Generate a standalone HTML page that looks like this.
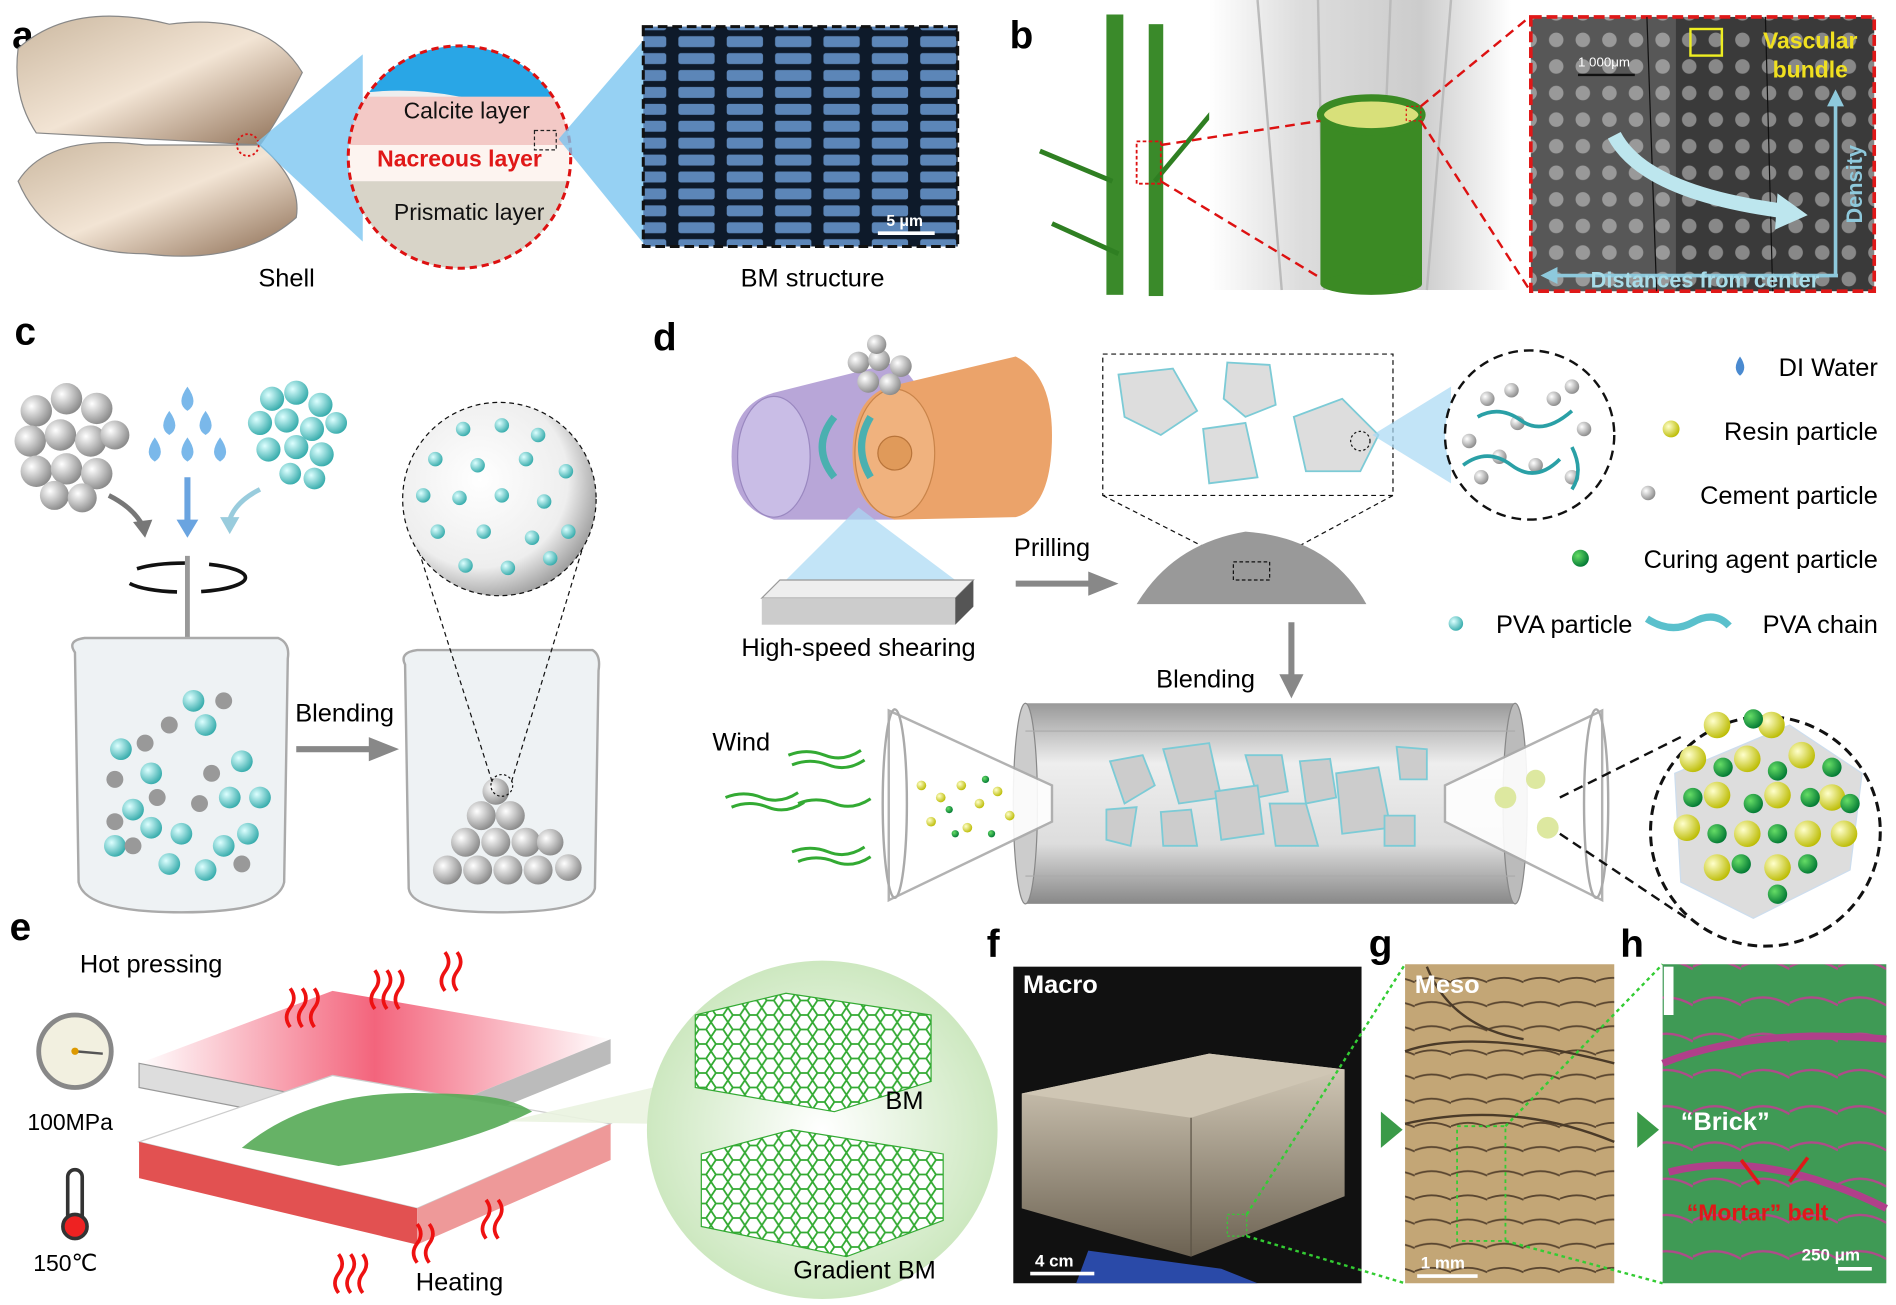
<!DOCTYPE html>
<html><head><meta charset="utf-8">
<style>
html,body{margin:0;padding:0;background:#fff;}
svg{display:block;font-family:"Liberation Sans",Arial,sans-serif;}
</style></head><body>
<svg width="1896" height="1305" viewBox="0 0 1568 1080" preserveAspectRatio="none" xmlns="http://www.w3.org/2000/svg">
<defs>
<radialGradient id="sph" cx="35%" cy="35%" r="70%"><stop offset="0" stop-color="#fff"/><stop offset="1" stop-color="#888"/></radialGradient>
<radialGradient id="cy" cx="35%" cy="35%" r="70%"><stop offset="0" stop-color="#dff"/><stop offset="1" stop-color="#3aa"/></radialGradient>
<radialGradient id="yel" cx="35%" cy="35%" r="70%"><stop offset="0" stop-color="#ffc"/><stop offset="1" stop-color="#bb0"/></radialGradient>
<radialGradient id="grn" cx="35%" cy="35%" r="70%"><stop offset="0" stop-color="#6d6"/><stop offset="1" stop-color="#073"/></radialGradient>
<radialGradient id="bigs" cx="40%" cy="40%" r="65%"><stop offset="0" stop-color="#fff"/><stop offset="0.7" stop-color="#eee"/><stop offset="1" stop-color="#999"/></radialGradient>
<radialGradient id="glow" cx="50%" cy="50%" r="50%"><stop offset="0" stop-color="#fff"/><stop offset="1" stop-color="#cde8c0"/></radialGradient>
<linearGradient id="tube" x1="0" y1="0" x2="0" y2="1"><stop offset="0" stop-color="#999"/><stop offset="0.3" stop-color="#eee"/><stop offset="0.7" stop-color="#ddd"/><stop offset="1" stop-color="#888"/></linearGradient>
<linearGradient id="shell" x1="0" y1="0" x2="1" y2="1"><stop offset="0" stop-color="#cbb8a0"/><stop offset="0.5" stop-color="#f2e4d4"/><stop offset="1" stop-color="#8a6a50"/></linearGradient>
<linearGradient id="bg" x1="0" y1="0" x2="1" y2="0"><stop offset="0" stop-color="#fff"/><stop offset="0.3" stop-color="#ddd"/><stop offset="0.7" stop-color="#ccc"/><stop offset="1" stop-color="#fff"/></linearGradient>
<linearGradient id="redp" x1="0" y1="0" x2="1" y2="0"><stop offset="0" stop-color="#fff"/><stop offset="0.5" stop-color="#e24"/><stop offset="1" stop-color="#fff"/></linearGradient>
<linearGradient id="cube" x1="0" y1="0" x2="0" y2="1"><stop offset="0" stop-color="#d8cfbd"/><stop offset="1" stop-color="#6c6252"/></linearGradient>
<pattern id="sem" width="40" height="14" patternUnits="userSpaceOnUse"><rect width="40" height="14" fill="#0e1a2a"/><rect x="1" y="2" width="30" height="9" rx="2" fill="#5c86b8"/></pattern>
<pattern id="dots" width="22" height="22" patternUnits="userSpaceOnUse"><rect width="22" height="22" fill="#3a3a3a"/><circle cx="11" cy="11" r="6" fill="#888"/></pattern>
<pattern id="tan" width="30" height="20" patternUnits="userSpaceOnUse"><rect width="30" height="20" fill="#c3a676"/><path d="M0 12 Q15 6 30 13" stroke="#5a4630" stroke-width="1.5" fill="none"/></pattern>
<pattern id="gr" width="40" height="30" patternUnits="userSpaceOnUse"><rect width="40" height="30" fill="#3f9a55"/><path d="M0 20 Q20 10 40 22" stroke="#b04a8a" stroke-width="2" fill="none"/></pattern>
<pattern id="cells" width="14" height="12" patternUnits="userSpaceOnUse"><rect width="14" height="12" fill="#fff"/><path d="M0 6 L4 0 L10 0 L14 6 L10 12 L4 12Z" fill="none" stroke="#3a3" stroke-width="1.5"/></pattern>
</defs>

<!-- ===== a ===== -->
<text x="10" y="40" font-size="32" font-weight="bold">a</text>
<path d="M15 40 Q60 0 140 20 Q220 10 250 60 Q230 100 215 120 L30 110 Q10 80 15 40Z" fill="url(#shell)" stroke="#888"/>
<path d="M15 150 Q40 110 120 120 L215 120 Q250 150 245 180 Q200 220 120 210 Q40 210 15 150Z" fill="url(#shell)" stroke="#888"/>
<circle cx="205" cy="120" r="9" fill="none" stroke="#d11" stroke-dasharray="2,2" stroke-width="1.5"/>
<polygon points="212,118 300,45 300,200" fill="#7cc6f0" opacity="0.8"/>
<clipPath id="ca"><circle cx="380" cy="130" r="92"/></clipPath>
<g clip-path="url(#ca)">
<rect x="280" y="30" width="200" height="200" fill="#eee"/>
<path d="M280 30 H480 V75 Q430 90 380 80 Q330 70 280 80Z" fill="#29a6e6"/>
<rect x="280" y="80" width="200" height="40" fill="#f3c9c6"/>
<rect x="280" y="120" width="200" height="30" fill="#fdf4f0"/>
<rect x="280" y="150" width="200" height="80" fill="#d8d4c8"/>
</g>
<circle cx="380" cy="130" r="92" fill="none" stroke="#d11" stroke-width="2.5" stroke-dasharray="6,4"/>
<text x="386" y="98" font-size="19" text-anchor="middle" fill="#111">Calcite layer</text>
<text x="380" y="138" font-size="19" text-anchor="middle" fill="#e01818" font-weight="bold">Nacreous layer</text>
<text x="388" y="182" font-size="19" text-anchor="middle" fill="#111">Prismatic layer</text>
<rect x="442" y="108" width="18" height="16" fill="none" stroke="#222" stroke-dasharray="3,2"/>
<polygon points="462,115 535,30 535,205" fill="#7cc6f0" opacity="0.8"/>
<rect x="532" y="22" width="260" height="182" fill="url(#sem)"/>
<rect x="532" y="22" width="260" height="182" fill="none" stroke="#111" stroke-width="2.5" stroke-dasharray="8,4"/>
<text x="733" y="187" font-size="13" fill="#fff" font-weight="bold">5 μm</text>
<line x1="726" y1="193" x2="773" y2="193" stroke="#fff" stroke-width="3"/>
<text x="237" y="237" font-size="21" text-anchor="middle">Shell</text>
<text x="672" y="237" font-size="21" text-anchor="middle">BM structure</text>

<!-- ===== b ===== -->
<text x="835" y="40" font-size="32" font-weight="bold">b</text>
<rect x="915" y="12" width="14" height="232" fill="#3a8a2a"/>
<rect x="950" y="20" width="12" height="225" fill="#3a8a2a"/>
<g stroke="#2f7f22" stroke-width="4"><line x1="955" y1="150" x2="1030" y2="60"/><line x1="920" y1="150" x2="860" y2="125"/><line x1="925" y1="210" x2="870" y2="185"/></g>
<rect x="1000" y="0" width="250" height="240" fill="url(#bg)"/>
<g stroke="#bbb" stroke-width="2"><line x1="1040" y1="0" x2="1060" y2="240"/><line x1="1090" y1="0" x2="1095" y2="240"/><line x1="1150" y1="0" x2="1140" y2="240"/><line x1="1200" y1="0" x2="1180" y2="240"/></g>
<rect x="1092" y="95" width="84" height="140" fill="#3b8a24"/>
<ellipse cx="1134" cy="235" rx="42" ry="9" fill="#3b8a24"/>
<ellipse cx="1134" cy="95" rx="42" ry="14" fill="#d8e07a" stroke="#3b8a24" stroke-width="6"/>
<rect x="940" y="117" width="20" height="35" fill="none" stroke="#d11" stroke-dasharray="3,2" stroke-width="1.5"/>
<line x1="960" y1="120" x2="1092" y2="100" stroke="#d11" stroke-width="2" stroke-dasharray="8,5"/>
<line x1="960" y1="150" x2="1092" y2="230" stroke="#d11" stroke-width="2" stroke-dasharray="8,5"/>
<rect x="1163" y="88" width="12" height="12" fill="none" stroke="#d11" stroke-dasharray="2,2"/>
<line x1="1175" y1="88" x2="1265" y2="14" stroke="#d11" stroke-width="2" stroke-dasharray="8,5"/>
<line x1="1175" y1="100" x2="1265" y2="240" stroke="#d11" stroke-width="2" stroke-dasharray="8,5"/>
<rect x="1266" y="14" width="284" height="227" fill="url(#dots)"/>
<rect x="1266" y="14" width="120" height="227" fill="#fff" opacity="0.15"/>
<rect x="1266" y="14" width="284" height="227" fill="none" stroke="#e01818" stroke-width="3" stroke-dasharray="9,4"/>
<line x1="1362" y1="14" x2="1370" y2="241" stroke="#111"/><line x1="1460" y1="14" x2="1466" y2="241" stroke="#111"/>
<text x="1305" y="55" font-size="11" fill="#fff">1 000μm</text><line x1="1305" y1="62" x2="1352" y2="62" stroke="#111" stroke-width="2"/>
<rect x="1398" y="24" width="26" height="22" fill="none" stroke="#ee2" stroke-width="2"/>
<text x="1458" y="40" font-size="19" fill="#f0e020" font-weight="bold">Vascular</text>
<text x="1466" y="64" font-size="19" fill="#f0e020" font-weight="bold">bundle</text>
<path d="M1335 112 Q1360 160 1478 175" stroke="#bde6ee" stroke-width="12" fill="none"/>
<polygon points="1470,160 1495,178 1468,190" fill="#bde6ee"/>
<line x1="1518" y1="228" x2="1518" y2="85" stroke="#8ec9dc" stroke-width="3"/><polygon points="1511,88 1518,74 1525,88" fill="#8ec9dc"/>
<line x1="1285" y1="228" x2="1520" y2="228" stroke="#8ec9dc" stroke-width="3"/><polygon points="1288,221 1274,228 1288,235" fill="#8ec9dc"/>
<text x="1540" y="185" font-size="18" fill="#8ec9dc" font-weight="bold" transform="rotate(-90 1540 185)">Density</text>
<text x="1410" y="238" font-size="18" fill="#a8dce8" font-weight="bold" text-anchor="middle">Distances from center</text>

<!-- ===== c ===== -->
<text x="12" y="285" font-size="32" font-weight="bold">c</text>
<g fill="url(#sph)">
<circle cx="30" cy="340" r="13"/><circle cx="55" cy="330" r="13"/><circle cx="80" cy="338" r="13"/><circle cx="25" cy="365" r="13"/><circle cx="50" cy="360" r="13"/><circle cx="75" cy="365" r="13"/><circle cx="95" cy="360" r="12"/><circle cx="30" cy="390" r="13"/><circle cx="55" cy="388" r="13"/><circle cx="80" cy="392" r="13"/><circle cx="45" cy="410" r="12"/><circle cx="68" cy="412" r="12"/></g>
<g fill="#7ab8ea"><path d="M155 320 q-10 14 0 20 q10 -6 0 -20z"/><path d="M140 340 q-10 14 0 20 q10 -6 0 -20z"/><path d="M170 340 q-10 14 0 20 q10 -6 0 -20z"/><path d="M128 362 q-10 14 0 20 q10 -6 0 -20z"/><path d="M155 362 q-10 14 0 20 q10 -6 0 -20z"/><path d="M182 362 q-10 14 0 20 q10 -6 0 -20z"/></g>
<g fill="url(#cy)">
<circle cx="225" cy="330" r="10"/><circle cx="245" cy="325" r="10"/><circle cx="265" cy="335" r="10"/><circle cx="215" cy="350" r="10"/><circle cx="237" cy="348" r="10"/><circle cx="258" cy="355" r="10"/><circle cx="278" cy="350" r="9"/><circle cx="222" cy="372" r="10"/><circle cx="245" cy="370" r="10"/><circle cx="266" cy="376" r="10"/><circle cx="240" cy="392" r="9"/><circle cx="260" cy="396" r="9"/></g>
<path d="M90 410 Q110 420 118 435" stroke="#777" stroke-width="4" fill="none"/><polygon points="110,432 120,445 126,430" fill="#777"/>
<line x1="155" y1="395" x2="155" y2="432" stroke="#6aa4e0" stroke-width="5"/><polygon points="146,430 155,445 164,430" fill="#6aa4e0"/>
<path d="M215 405 Q195 415 190 430" stroke="#9cd" stroke-width="4" fill="none"/><polygon points="182,428 190,442 198,428" fill="#9cd"/>
<ellipse cx="153" cy="478" rx="50" ry="12" fill="none" stroke="#111" stroke-width="3" stroke-dasharray="40,20"/>
<line x1="155" y1="460" x2="155" y2="660" stroke="#999" stroke-width="4"/>
<path d="M62 540 Q55 530 70 528 L230 528 Q240 532 238 545 L235 730 Q230 755 150 755 Q70 755 65 730Z" fill="#eef2f4" stroke="#aaa" stroke-width="2"/>
<g fill="url(#cy)"><circle cx="100" cy="620" r="9"/><circle cx="125" cy="640" r="9"/><circle cx="170" cy="600" r="9"/><circle cx="200" cy="630" r="9"/><circle cx="215" cy="660" r="9"/><circle cx="110" cy="670" r="9"/><circle cx="150" cy="690" r="9"/><circle cx="185" cy="700" r="9"/><circle cx="205" cy="690" r="9"/><circle cx="95" cy="700" r="9"/><circle cx="140" cy="715" r="9"/><circle cx="170" cy="720" r="9"/><circle cx="125" cy="685" r="9"/><circle cx="160" cy="580" r="9"/><circle cx="190" cy="660" r="9"/></g>
<g fill="#999"><circle cx="95" cy="645" r="7"/><circle cx="140" cy="600" r="7"/><circle cx="185" cy="580" r="7"/><circle cx="110" cy="700" r="7"/><circle cx="165" cy="665" r="7"/><circle cx="200" cy="715" r="7"/><circle cx="130" cy="660" r="7"/><circle cx="95" cy="680" r="7"/><circle cx="175" cy="640" r="7"/><circle cx="120" cy="615" r="7"/></g>
<text x="285" y="597" font-size="21" text-anchor="middle">Blending</text>
<line x1="245" y1="620" x2="310" y2="620" stroke="#888" stroke-width="5"/><polygon points="305,610 330,620 305,630" fill="#888"/>
<path d="M335 550 Q330 540 345 538 L490 538 Q497 542 495 555 L492 735 Q488 755 412 755 Q340 755 338 735Z" fill="#eef2f4" stroke="#aaa" stroke-width="2"/>
<g fill="url(#sph)"><circle cx="370" cy="720" r="12"/><circle cx="395" cy="720" r="12"/><circle cx="420" cy="720" r="12"/><circle cx="445" cy="720" r="12"/><circle cx="470" cy="718" r="11"/><circle cx="385" cy="697" r="12"/><circle cx="410" cy="697" r="12"/><circle cx="435" cy="697" r="12"/><circle cx="455" cy="697" r="11"/><circle cx="398" cy="675" r="12"/><circle cx="422" cy="675" r="12"/><circle cx="410" cy="655" r="11"/></g>
<circle cx="415" cy="650" r="9" fill="none" stroke="#111" stroke-dasharray="2,2"/>
<line x1="407" y1="647" x2="335" y2="420" stroke="#111" stroke-dasharray="4,3"/>
<line x1="423" y1="647" x2="492" y2="420" stroke="#111" stroke-dasharray="4,3"/>
<circle cx="413" cy="413" r="80" fill="url(#bigs)" stroke="#111" stroke-dasharray="4,3"/>
<g fill="url(#cy)"><circle cx="383" cy="355" r="6"/><circle cx="415" cy="352" r="6"/><circle cx="445" cy="360" r="6"/><circle cx="360" cy="380" r="6"/><circle cx="395" cy="385" r="6"/><circle cx="435" cy="380" r="6"/><circle cx="468" cy="390" r="6"/><circle cx="350" cy="410" r="6"/><circle cx="380" cy="412" r="6"/><circle cx="415" cy="410" r="6"/><circle cx="450" cy="415" r="6"/><circle cx="362" cy="440" r="6"/><circle cx="400" cy="440" r="6"/><circle cx="440" cy="445" r="6"/><circle cx="470" cy="440" r="6"/><circle cx="385" cy="468" r="6"/><circle cx="420" cy="470" r="6"/><circle cx="455" cy="462" r="6"/></g>

<!-- ===== d ===== -->
<text x="540" y="290" font-size="32" font-weight="bold">d</text>
<path d="M640 325 L740 300 Q770 320 770 370 Q770 420 740 430 L640 430 Q605 420 605 378 Q605 335 640 325Z" fill="#b8a6d8"/>
<ellipse cx="640" cy="378" rx="30" ry="50" fill="#c9bde6" stroke="#9a88c0"/>
<path d="M735 320 L840 295 Q870 310 870 360 Q870 420 840 428 L740 430 Q705 420 705 375 Q705 330 735 320Z" fill="#eba36a"/>
<ellipse cx="740" cy="375" rx="33" ry="53" fill="#f0b27e" stroke="#c9844a"/>
<circle cx="740" cy="375" r="14" fill="#e09a5a" stroke="#b8743a"/>
<path d="M690 345 Q670 370 690 395" stroke="#4ab0b0" stroke-width="6" fill="none"/>
<path d="M720 345 Q705 370 720 395" stroke="#4ab0b0" stroke-width="6" fill="none"/>
<g fill="url(#sph)"><circle cx="710" cy="300" r="9"/><circle cx="727" cy="298" r="9"/><circle cx="745" cy="303" r="9"/><circle cx="718" cy="316" r="9"/><circle cx="736" cy="318" r="9"/><circle cx="725" cy="285" r="8"/></g>
<polygon points="710,420 650,480 790,480" fill="#a8d8f4" opacity="0.7"/>
<polygon points="645,480 805,480 790,495 630,495" fill="#eee" stroke="#999"/>
<rect x="630" y="495" width="160" height="22" fill="#ccc"/><polygon points="790,495 805,480 805,502 790,517" fill="#555"/>
<text x="710" y="543" font-size="21" text-anchor="middle">High-speed shearing</text>
<text x="870" y="460" font-size="21" text-anchor="middle">Prilling</text>
<line x1="840" y1="483" x2="905" y2="483" stroke="#888" stroke-width="5"/><polygon points="900,473 925,483 900,493" fill="#888"/>
<rect x="912" y="293" width="240" height="117" fill="#fff" stroke="#111" stroke-dasharray="4,3"/>
<g fill="#ddd" stroke="#7ccbd6" stroke-width="1.5"><polygon points="925,310 970,305 990,340 960,360 930,345"/><polygon points="1015,300 1050,302 1055,335 1030,345 1012,330"/><polygon points="995,355 1030,350 1040,395 1000,400"/><polygon points="1070,345 1110,330 1140,360 1125,390 1080,390"/></g>
<circle cx="1125" cy="365" r="8" fill="none" stroke="#111" stroke-dasharray="2,2"/>
<line x1="912" y1="410" x2="1020" y2="465" stroke="#111" stroke-dasharray="4,3"/><line x1="1152" y1="410" x2="1050" y2="465" stroke="#111" stroke-dasharray="4,3"/>
<path d="M940 500 Q970 450 1030 440 Q1100 445 1130 500Z" fill="#999"/>
<rect x="1020" y="465" width="30" height="15" fill="none" stroke="#111" stroke-dasharray="3,2"/>
<polygon points="1135,360 1200,320 1200,400" fill="#a8d8f4" opacity="0.7"/>
<circle cx="1265" cy="360" r="70" fill="#fff" stroke="#111" stroke-width="2" stroke-dasharray="8,5"/>
<g fill="url(#sph)"><circle cx="1230" cy="330" r="6"/><circle cx="1250" cy="323" r="6"/><circle cx="1285" cy="330" r="6"/><circle cx="1300" cy="320" r="6"/><circle cx="1215" cy="365" r="6"/><circle cx="1240" cy="378" r="6"/><circle cx="1270" cy="385" r="6"/><circle cx="1310" cy="355" r="6"/><circle cx="1300" cy="395" r="6"/><circle cx="1225" cy="395" r="6"/><circle cx="1255" cy="350" r="6"/></g>
<g stroke="#2aa0a6" stroke-width="3" fill="none"><path d="M1222 345 Q1240 335 1258 348 T1300 340"/><path d="M1210 385 Q1230 370 1250 385 T1290 380"/><path d="M1300 370 Q1310 390 1300 405"/></g>
<g font-size="21"><text x="1553" y="311" text-anchor="end">DI Water</text><text x="1553" y="364" text-anchor="end">Resin particle</text><text x="1553" y="417" text-anchor="end">Cement particle</text><text x="1553" y="470" text-anchor="end">Curing agent particle</text><text x="1350" y="524" text-anchor="end">PVA particle</text><text x="1553" y="524" text-anchor="end">PVA chain</text></g>
<path d="M1439 295 q-7 10 0 16 q7 -6 0 -16z" fill="#4a8ad0"/>
<circle cx="1382" cy="355" r="7" fill="url(#yel)"/><circle cx="1363" cy="408" r="6" fill="url(#sph)"/><circle cx="1307" cy="462" r="7" fill="url(#grn)"/><circle cx="1204" cy="516" r="6" fill="url(#cy)"/>
<path d="M1362 512 Q1382 525 1400 515 T1430 518" stroke="#5ac0cc" stroke-width="6" fill="none"/>
<line x1="1068" y1="515" x2="1068" y2="562" stroke="#888" stroke-width="5"/><polygon points="1058,558 1068,578 1078,558" fill="#888"/>
<text x="997" y="569" font-size="21" text-anchor="middle">Blending</text>
<text x="613" y="621" font-size="21" text-anchor="middle">Wind</text>
<g stroke="#3a3" stroke-width="2.5" fill="none"><path d="M652 625 q15 -6 30 0 t30 -4"/><path d="M655 633 q15 -6 30 0 t30 -4"/><path d="M600 660 q15 -6 30 0 t30 -4"/><path d="M605 668 q15 -6 30 0 t30 -4"/><path d="M660 665 q15 -6 30 0 t30 -4"/><path d="M655 705 q15 -6 30 0 t30 -4"/><path d="M660 713 q15 -6 30 0 t30 -4"/></g>
<rect x="848" y="582" width="405" height="166" fill="url(#tube)"/>
<ellipse cx="848" cy="665" rx="10" ry="83" fill="#ccc" stroke="#888"/>
<ellipse cx="1253" cy="665" rx="10" ry="83" fill="#bbb" stroke="#888"/>
<line x1="848" y1="605" x2="1253" y2="605" stroke="#aaa"/><line x1="848" y1="725" x2="1253" y2="725" stroke="#aaa"/>
<g fill="#ccc" stroke="#7ccbd6" stroke-width="1.5"><polygon points="918,630 945,625 955,650 930,665"/><polygon points="962,620 1000,615 1010,660 975,665"/><polygon points="1030,625 1060,625 1065,655 1040,660"/><polygon points="1075,630 1100,628 1105,660 1080,665"/><polygon points="1105,640 1140,635 1150,685 1110,690"/><polygon points="1155,618 1180,620 1180,645 1158,645"/><polygon points="1005,655 1040,650 1045,690 1010,695"/><polygon points="1050,665 1080,665 1090,700 1055,700"/><polygon points="960,672 985,670 990,700 962,700"/><polygon points="915,670 940,668 935,700 915,695"/><polygon points="1145,675 1170,675 1170,700 1145,700"/></g>
<polygon points="735,588 870,650 870,680 735,745" fill="#fff" stroke="#aaa" stroke-width="2" opacity="0.9"/>
<ellipse cx="740" cy="665" rx="10" ry="78" fill="none" stroke="#aaa" stroke-width="2"/>
<g fill="url(#yel)"><circle cx="762" cy="650" r="4"/><circle cx="778" cy="660" r="4"/><circle cx="795" cy="650" r="4"/><circle cx="810" cy="665" r="4"/><circle cx="825" cy="655" r="4"/><circle cx="770" cy="680" r="4"/><circle cx="800" cy="685" r="4"/><circle cx="835" cy="675" r="4"/></g>
<g fill="url(#grn)"><circle cx="785" cy="670" r="3"/><circle cx="815" cy="645" r="3"/><circle cx="790" cy="690" r="3"/><circle cx="820" cy="690" r="3"/></g>
<polygon points="1325,588 1195,650 1195,680 1325,745" fill="#fff" stroke="#aaa" stroke-width="2" opacity="0.9"/>
<ellipse cx="1320" cy="665" rx="10" ry="78" fill="none" stroke="#aaa" stroke-width="2"/>
<circle cx="1245" cy="660" r="9" fill="#dde8a0"/><circle cx="1270" cy="645" r="8" fill="#dde8a0"/><circle cx="1280" cy="685" r="9" fill="#dde8a0"/>
<line x1="1290" y1="660" x2="1390" y2="610" stroke="#111" stroke-width="2" stroke-dasharray="8,5"/><line x1="1290" y1="690" x2="1395" y2="760" stroke="#111" stroke-width="2" stroke-dasharray="8,5"/>
<circle cx="1460" cy="688" r="95" fill="#fff" stroke="#111" stroke-width="2.5" stroke-dasharray="8,5"/>
<path d="M1385 640 L1480 600 L1540 640 L1530 720 L1450 760 L1390 730Z" fill="#ddd" stroke="#cde"/>
<g fill="url(#yel)"><circle cx="1420" cy="600" r="11"/><circle cx="1465" cy="600" r="11"/><circle cx="1400" cy="628" r="11"/><circle cx="1445" cy="628" r="11"/><circle cx="1490" cy="625" r="11"/><circle cx="1420" cy="658" r="11"/><circle cx="1470" cy="658" r="11"/><circle cx="1515" cy="660" r="11"/><circle cx="1395" cy="685" r="11"/><circle cx="1445" cy="690" r="11"/><circle cx="1495" cy="690" r="11"/><circle cx="1420" cy="718" r="11"/><circle cx="1470" cy="718" r="11"/><circle cx="1525" cy="690" r="11"/></g>
<g fill="url(#grn)"><circle cx="1450" cy="595" r="8"/><circle cx="1425" cy="635" r="8"/><circle cx="1470" cy="638" r="8"/><circle cx="1400" cy="660" r="8"/><circle cx="1450" cy="665" r="8"/><circle cx="1497" cy="660" r="8"/><circle cx="1530" cy="665" r="8"/><circle cx="1420" cy="690" r="8"/><circle cx="1470" cy="690" r="8"/><circle cx="1440" cy="715" r="8"/><circle cx="1495" cy="715" r="8"/><circle cx="1470" cy="740" r="8"/><circle cx="1515" cy="635" r="8"/></g>

<!-- ===== e ===== -->
<text x="8" y="778" font-size="32" font-weight="bold">e</text>
<text x="125" y="805" font-size="21" text-anchor="middle">Hot pressing</text>
<circle cx="62" cy="870" r="30" fill="#f2f0e0" stroke="#888" stroke-width="4"/><line x1="62" y1="870" x2="85" y2="872" stroke="#555" stroke-width="2"/><circle cx="62" cy="870" r="3" fill="#d90"/>
<text x="58" y="935" font-size="19" text-anchor="middle">100MPa</text>
<rect x="56" y="968" width="12" height="45" rx="6" fill="#fff" stroke="#333" stroke-width="3"/><circle cx="62" cy="1015" r="10" fill="#e22" stroke="#333" stroke-width="3"/>
<text x="54" y="1052" font-size="19" text-anchor="middle">150℃</text>
<polygon points="115,880 275,820 505,860 345,925" fill="url(#redp)" opacity="0.7"/>
<polygon points="115,880 345,925 345,945 115,900" fill="#ddd" stroke="#999"/>
<polygon points="345,925 505,860 505,880 345,945" fill="#bbb"/>
<polygon points="115,945 275,890 505,930 345,1000" fill="#fff" stroke="#ccc"/>
<polygon points="115,945 345,1000 345,1030 115,975" fill="#d33" opacity="0.85"/>
<polygon points="345,1000 505,930 505,960 345,1030" fill="#e99"/>
<path d="M200 950 Q260 900 360 905 Q420 905 440 920 Q380 950 280 965Z" fill="#5a5" opacity="0.9"/>
<g stroke="#e11" stroke-width="3" fill="none">
<path d="M240 850 q-6 -8 0 -16 q6 -8 0 -16"/><path d="M250 850 q-6 -8 0 -16 q6 -8 0 -16"/><path d="M260 850 q-6 -8 0 -16 q6 -8 0 -16"/>
<path d="M310 835 q-6 -8 0 -16 q6 -8 0 -16"/><path d="M320 835 q-6 -8 0 -16 q6 -8 0 -16"/><path d="M330 835 q-6 -8 0 -16 q6 -8 0 -16"/>
<path d="M368 820 q-6 -8 0 -16 q6 -8 0 -16"/><path d="M378 820 q-6 -8 0 -16 q6 -8 0 -16"/>
<path d="M280 1070 q-6 -8 0 -16 q6 -8 0 -16"/><path d="M290 1070 q-6 -8 0 -16 q6 -8 0 -16"/><path d="M300 1070 q-6 -8 0 -16 q6 -8 0 -16"/>
<path d="M345 1045 q-6 -8 0 -16 q6 -8 0 -16"/><path d="M355 1045 q-6 -8 0 -16 q6 -8 0 -16"/>
<path d="M402 1025 q-6 -8 0 -16 q6 -8 0 -16"/><path d="M412 1025 q-6 -8 0 -16 q6 -8 0 -16"/></g>
<text x="380" y="1068" font-size="21" text-anchor="middle">Heating</text>
<polygon points="420,928 540,900 540,930" fill="#eaf3e0" opacity="0.9"/>
<ellipse cx="680" cy="935" rx="145" ry="140" fill="url(#glow)"/>
<polygon points="575,840 650,822 770,840 770,895 690,920 575,900" fill="url(#cells)" stroke="#3a3"/>
<text x="748" y="918" font-size="21" text-anchor="middle">BM</text>
<polygon points="580,955 655,935 780,955 780,1010 700,1040 580,1015" fill="url(#cells)" stroke="#3a3"/>
<text x="715" y="1058" font-size="21" text-anchor="middle">Gradient BM</text>

<!-- ===== f ===== -->
<text x="816" y="792" font-size="32" font-weight="bold">f</text>
<rect x="838" y="800" width="288" height="262" fill="#111"/>
<polygon points="845,905 1000,872 1112,885 1112,990 985,1040 845,1000" fill="url(#cube)"/>
<polygon points="845,905 985,925 1112,885 1000,872" fill="#cfc6b4"/>
<line x1="985" y1="925" x2="985" y2="1040" stroke="#5a5244"/>
<path d="M900 1035 L1010 1050 L1040 1062 L890 1062Z" fill="#2a4aa8"/>
<text x="846" y="822" font-size="21" fill="#fff" font-weight="bold">Macro</text>
<text x="856" y="1048" font-size="14" fill="#fff" font-weight="bold">4 cm</text><line x1="852" y1="1054" x2="905" y2="1054" stroke="#fff" stroke-width="3"/>
<rect x="1015" y="1005" width="16" height="18" fill="none" stroke="#3c3" stroke-dasharray="2,2"/>
<line x1="1031" y1="1005" x2="1162" y2="798" stroke="#3c3" stroke-width="2" stroke-dasharray="3,3"/>
<line x1="1031" y1="1023" x2="1162" y2="1062" stroke="#3c3" stroke-width="2" stroke-dasharray="3,3"/>

<!-- ===== g ===== -->
<text x="1132" y="792" font-size="32" font-weight="bold">g</text>
<rect x="1162" y="798" width="173" height="264" fill="url(#tan)"/>
<path d="M1162 870 Q1220 850 1335 880 M1162 930 Q1250 910 1335 945 M1180 800 Q1200 850 1260 860" stroke="#4a3a28" stroke-width="2" fill="none"/>
<polygon points="1142,920 1160,935 1142,950" fill="#3a9a48"/>
<text x="1170" y="822" font-size="21" fill="#fff" font-weight="bold">Meso</text>
<text x="1175" y="1050" font-size="14" fill="#fff" font-weight="bold">1 mm</text><line x1="1172" y1="1056" x2="1222" y2="1056" stroke="#fff" stroke-width="3"/>
<rect x="1205" y="932" width="40" height="95" fill="none" stroke="#3c3" stroke-dasharray="3,3" stroke-width="1.5"/>
<line x1="1245" y1="932" x2="1375" y2="798" stroke="#3c3" stroke-width="2" stroke-dasharray="3,3"/>
<line x1="1245" y1="1027" x2="1375" y2="1062" stroke="#3c3" stroke-width="2" stroke-dasharray="3,3"/>

<!-- ===== h ===== -->
<text x="1340" y="792" font-size="32" font-weight="bold">h</text>
<rect x="1375" y="798" width="185" height="264" fill="url(#gr)"/>
<path d="M1375 880 Q1450 850 1560 860 M1380 970 Q1460 950 1560 1000" stroke="#b0408a" stroke-width="6" fill="none"/>
<rect x="1376" y="800" width="8" height="40" fill="#fff"/>
<polygon points="1354,920 1372,935 1354,950" fill="#3a9a48"/>
<text x="1390" y="935" font-size="21" fill="#fff" font-weight="bold">“Brick”</text>
<text x="1395" y="1010" font-size="19" fill="#e01818" font-weight="bold">“Mortar” belt</text>
<g stroke="#e01818" stroke-width="3"><line x1="1455" y1="980" x2="1440" y2="960"/><line x1="1480" y1="978" x2="1495" y2="958"/></g>
<text x="1490" y="1043" font-size="14" fill="#fff" font-weight="bold">250 μm</text><line x1="1520" y1="1050" x2="1548" y2="1050" stroke="#fff" stroke-width="3"/>
</svg>
</body></html>
